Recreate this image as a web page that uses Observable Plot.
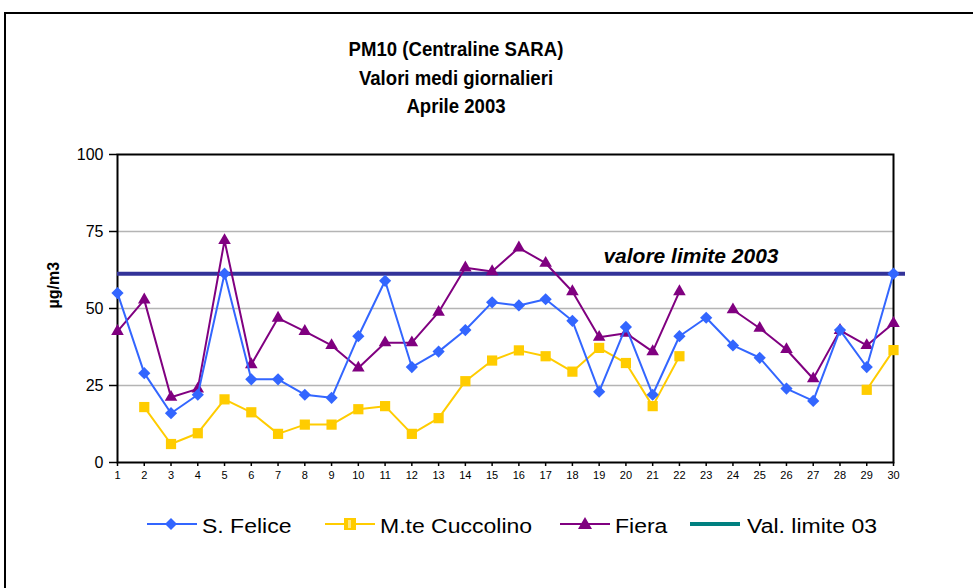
<!DOCTYPE html>
<html>
<head>
<meta charset="utf-8">
<script src="https://cdn.jsdelivr.net/npm/d3@7"></script>
<script src="https://cdn.jsdelivr.net/npm/@observablehq/plot@0.6"></script>
<style>
  body { margin: 0; background: #fff; }
  #wrap { position: relative; width: 973px; height: 588px; overflow: hidden; background: #fff;
          font-family: "Liberation Sans", Arial, sans-serif; color: #000; }
  #outer { position: absolute; left: 4px; top: 12px; width: 1100px; height: 800px; border: 2px solid #000; box-sizing: border-box; }
  #title { position: absolute; left: 0; top: 35px; width: 912px; text-align: center; font-weight: bold;
           font-size: 21px; line-height: 28.5px; }
  #title div { transform: scaleX(0.885); }
  #chart { position: absolute; left: 0; top: 140px; }
  .leg { position: absolute; top: 514px; height: 24px; }
  .leg svg { position: absolute; top: 0; }
  .leg span { position: absolute; top: 0; font-size: 20px; line-height: 24px; white-space: nowrap;
              transform: scaleX(1.15); transform-origin: left center; }
</style>
</head>
<body>
<div id="wrap">
  <div id="outer"></div>
  <div id="title"></div>
  <div id="chart"></div>
  <div id="legend"></div>
</div>
<script>
const titleLines = ["PM10 (Centraline SARA)", "Valori medi giornalieri", "Aprile 2003"];
const days = d3.range(1, 31);
const yTicks = [0, 25, 50, 75, 100];
const limitValue = 61.3;
const limitLabel = "valore limite 2003";
const yLabel = "µg/m3";

const sFelice = [55, 29, 16, 22, 61.3, 27, 27, 22, 21, 41, 59, 31, 36, 43, 52, 51, 53, 46, 23, 44, 22, 41, 47, 38, 34, 24, 20, 43, 31, 61.3];
const cuccolino = [null, 18, 6, 9.5, 20.5, 16.3, 9.3, 12.3, 12.3, 17.3, 18.3, 9.3, 14.4, 26.4, 33.1, 36.4, 34.5, 29.5, 37.2, 32.3, 18.3, 34.5, null, null, null, null, null, null, 23.6, 36.5];
const fiera = [42.6, 52.8, 21.2, 23.9, 72.1, 31.8, 46.9, 42.6, 38, 30.7, 38.9, 38.9, 48.8, 63.2, 62, 69.7, 64.7, 55.5, 40.7, 42, 36, 55.5, null, 49.6, 43.6, 36.7, 27.2, 42.9, 38, 45.2];

const seriesNames = ["S. Felice", "M.te Cuccolino", "Fiera", "Val. limite 03"];
const colors = {felice: "#3366FF", cuccolino: "#FFCC00", fiera: "#800080", limit: "#333399", limitLegend: "#008080"};

// Title
const t = document.getElementById("title");
titleLines.forEach(s => { const d = document.createElement("div"); d.textContent = s; t.appendChild(d); });

function seriesMarks(vals, color, symbol, r) {
  const data = days.map((d, i) => ({day: d, v: vals[i]}));
  return [
    Plot.line(data, {x: "day", y: "v", stroke: color, strokeWidth: 2}),
    Plot.dot(data.filter(d => d.v != null), {x: "day", y: "v", symbol, fill: color, stroke: "none", r})
  ];
}

const chart = Plot.plot({
  width: 973,
  height: 352,
  marginTop: 14,
  marginBottom: 30,
  marginLeft: 117,
  marginRight: 80,
  style: {fontFamily: "'Liberation Sans', Arial, sans-serif", fontSize: "11px", color: "#000", background: "transparent", overflow: "visible"},
  x: {domain: [1, 30], axis: null},
  y: {domain: [0, 100], axis: null},
  marks: [
    Plot.gridY([25, 50, 75], {stroke: "#b4b4b4", strokeOpacity: 1, strokeWidth: 1.5}),
    Plot.frame({stroke: "#000", strokeWidth: 2}),
    Plot.axisY(yTicks, {tickSize: 8, tickPadding: 6, fontSize: 16, label: null, stroke: "#000", strokeWidth: 1.5}),
    Plot.axisX(days, {tickSize: 4, tickPadding: 5, fontSize: 11, label: null, stroke: "#000", strokeWidth: 1.5}),
    Plot.text([yLabel], {frameAnchor: "left", rotate: -90, dx: -64, text: d => d, fontWeight: "bold", fontSize: 16}),
    Plot.ruleY([limitValue], {stroke: colors.limit, strokeWidth: 4, insetRight: -12}),
    Plot.text([limitValue], {y: d => d, frameAnchor: "right", textAnchor: "end", dx: -115, dy: -17,
      text: () => limitLabel, fontWeight: "bold", fontStyle: "italic", fontSize: 21}),
    ...seriesMarks(cuccolino, colors.cuccolino, "square2", 6.5),
    ...seriesMarks(fiera, colors.fiera, "triangle2", 6),
    ...seriesMarks(sFelice, colors.felice, "diamond2", 5.5)
  ]
});
document.getElementById("chart").appendChild(chart);

// Legend
const legendItems = [
  {name: seriesNames[0], color: colors.felice, sym: "diamond", lx: 147, tx: 202},
  {name: seriesNames[1], color: colors.cuccolino, sym: "square", lx: 325, tx: 380},
  {name: seriesNames[2], color: colors.fiera, sym: "triangle", lx: 560, tx: 615},
  {name: seriesNames[3], color: colors.limitLegend, sym: null, lx: 690, tx: 747}
];
const legend = document.getElementById("legend");
legendItems.forEach(it => {
  const div = document.createElement("div");
  div.className = "leg";
  div.style.left = "0px";
  const w = 50, cy = 10;
  let marker = "";
  if (it.sym === "diamond") marker = `<path d="M${w/2 - 1},${cy - 6}L${w/2 + 5},${cy}L${w/2 - 1},${cy + 6}L${w/2 - 7},${cy}Z" fill="${it.color}"/>`;
  if (it.sym === "square") marker = `<rect x="${w/2 - 6}" y="${cy - 6}" width="12" height="12" fill="${it.color}"/><rect x="${w/2 - 2}" y="${cy - 4}" width="3" height="8" fill="#ffe680"/>`;
  if (it.sym === "triangle") marker = `<path d="M${w/2},${cy - 7}L${w/2 + 7},${cy + 5}L${w/2 - 7},${cy + 5}Z" fill="${it.color}"/>`;
  const sw = it.sym ? 2 : 4;
  div.innerHTML = `<svg width="${w}" height="20" style="left:${it.lx}px"><line x1="0" x2="${w}" y1="${cy}" y2="${cy}" stroke="${it.color}" stroke-width="${sw}"/>${marker}</svg><span style="left:${it.tx}px">${it.name}</span>`;
  legend.appendChild(div);
});
</script>
</body>
</html>
